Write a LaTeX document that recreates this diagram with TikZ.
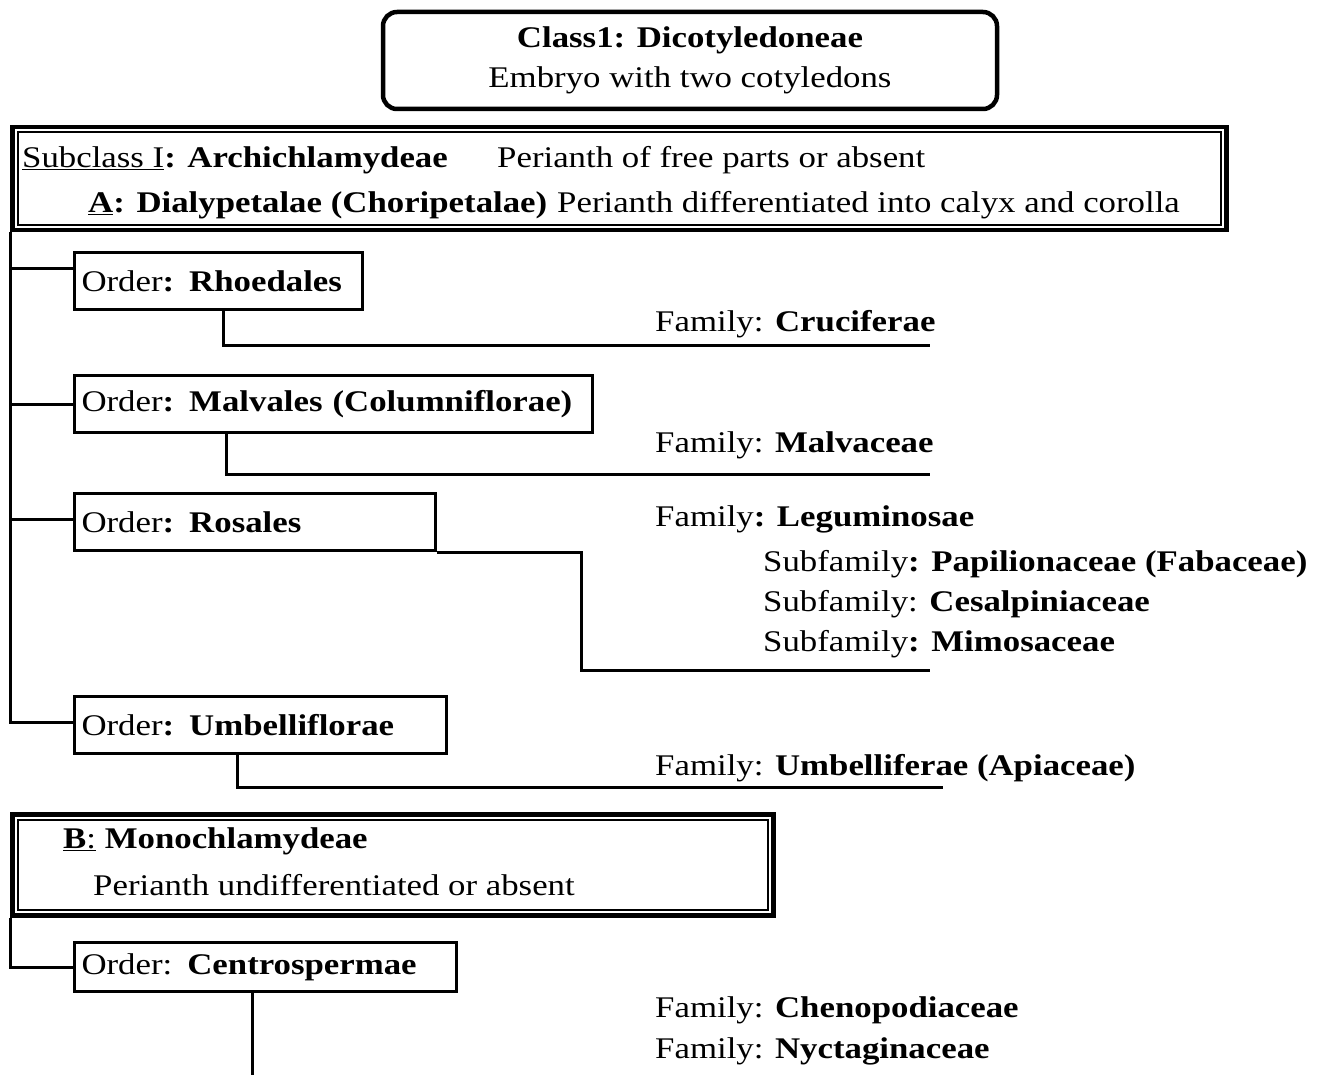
\documentclass[tikz,border=0pt]{standalone}
\usepackage{fontspec}
\setmainfont[FakeStretch=1.16]{Liberation Serif}
\tikzset{
  classbox/.style={
    draw,
    line width=4.5pt,
    rounded corners=14pt,
    align=center,
    minimum width=614pt,
    minimum height=97pt,
    inner sep=0pt
  },
  groupframe/.style={
    draw,
    line width=4.5pt,
    inner sep=0pt,
    anchor=north west,
    append after command={
      \pgfextra{\draw[line width=2pt]
        ([shift={(7.5pt,-7.5pt)}]\tikzlastnode.north west) rectangle
        ([shift={(-7.5pt,7.5pt)}]\tikzlastnode.south east);}
    }
  },
  orderbox/.style={
    draw,
    line width=3pt,
    anchor=north west,
    align=left,
    inner xsep=7pt,
    inner ysep=0pt,
    minimum height=57pt
  },
  famtext/.style={anchor=base west, inner sep=0pt},
  branch/.style={line width=3pt}
}
\begin{document}
\begin{tikzpicture}[x=1pt, y=-1pt, font=\fontsize{30}{40}\selectfont]
  \useasboundingbox (0,0) rectangle (1325,1075);
  % class
  \node[classbox] (class) at (690,60.5) {\textbf{Class1: Dicotyledoneae}\\Embryo with two cotyledons};
  % subclass I, division A
  \node[groupframe, minimum width=1214pt, minimum height=103pt] (subA) at (10,125) {};
  \node[famtext] (subAname) at (22,168) {\underline{Subclass I}\textbf{: Archichlamydeae}};
  \node[famtext] (subAdesc) at (497,168) {Perianth of free parts or absent};
  \node[famtext] (divA) at (88,213) {\textbf{\underline{A}: Dialypetalae (Choripetalae)}};
  \node[famtext] (divAdesc) at (557,213) {Perianth differentiated into calyx and corolla};
  % orders of A
  \node[orderbox, text width=274pt] (rhoe) at (73,251) {Order\textbf{: Rhoedales}};
  \node[orderbox, text width=504pt] (malv) at (73,374) {Order\textbf{: Malvales (Columniflorae)}};
  \node[orderbox, text width=347pt] (ros) at (73,492) {Order\textbf{: Rosales}};
  \node[orderbox, text width=358pt] (umb) at (73,695) {Order\textbf{: Umbelliflorae}};
  % families of A
  \node[famtext] (cruc) at (655,331) {Family: \textbf{Cruciferae}};
  \node[famtext] (malvac) at (655,452) {Family: \textbf{Malvaceae}};
  \node[famtext] (legum) at (655,526) {Family\textbf{: Leguminosae}};
  \node[famtext] (papil) at (763,571) {Subfamily\textbf{: Papilionaceae (Fabaceae)}};
  \node[famtext] (cesal) at (763,611) {Subfamily: \textbf{Cesalpiniaceae}};
  \node[famtext] (mimos) at (763,651) {Subfamily\textbf{: Mimosaceae}};
  \node[famtext] (umbel) at (655,775) {Family: \textbf{Umbelliferae (Apiaceae)}};
  % division B
  \node[groupframe, minimum width=761pt, minimum height=101pt] (subB) at (10,812) {};
  \node[famtext] (divB) at (63,848) {\underline{\textbf{B}:}\ \textbf{Monochlamydeae}};
  \node[famtext] (divBdesc) at (93,895) {Perianth undifferentiated or absent};
  \node[orderbox, text width=368pt, minimum height=49pt] (cent) at (73,941) {Order: \textbf{Centrospermae}};
  \node[famtext] (cheno) at (655,1017) {Family: \textbf{Chenopodiaceae}};
  \node[famtext] (nycta) at (655,1058) {Family: \textbf{Nyctaginaceae}};
  % line ends
  \coordinate (e1) at (930,345);
  \coordinate (e2) at (930,474);
  \coordinate (e3) at (930,670);
  \coordinate (e4) at (943,787);
  \coordinate (e6) at (252,1075);
  % trunk and branches
  \draw[branch] ([yshift=12pt]rhoe.west) -| (subA.south west);
  \draw[branch] (malv.west) -| (subA.south west);
  \draw[branch] ([yshift=3pt]ros.west) -| (subA.south west);
  \draw[branch] ([yshift=3pt]umb.west) -| (subA.south west);
  \draw[branch] (cent.west) -| (subB.south west);
  % order to family
  \draw[branch] ([xshift=150pt]rhoe.south west) |- (e1);
  \draw[branch] ([xshift=153pt]malv.south west) |- (e2);
  \draw[branch] (ros.south east) -- ++(144,0) |- (e3);
  \draw[branch] ([xshift=164pt]umb.south west) |- (e4);
  \draw[branch] (cent.south -| e6) -- (e6);
\end{tikzpicture}
\end{document}
